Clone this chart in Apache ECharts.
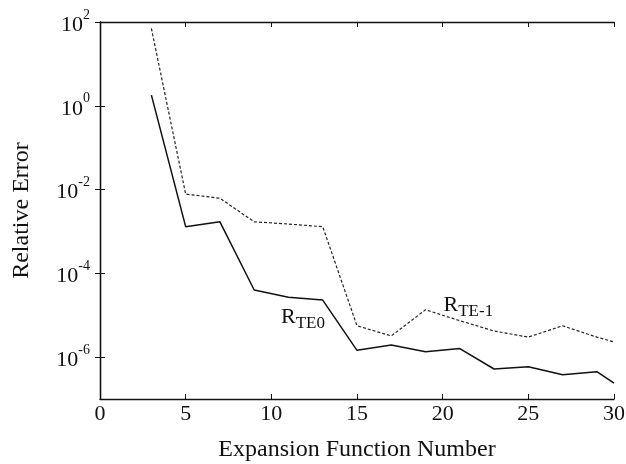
<!DOCTYPE html>
<html>
<head>
<meta charset="utf-8">
<script src="https://cdn.jsdelivr.net/npm/echarts@6/dist/echarts.min.js"></script>
<style>
  html, body { margin: 0; padding: 0; background: #fff; }
  #chart { width: 626px; height: 464px; }
</style>
</head>
<body>
<div id="chart"></div>
<script>
// expansion function number
const xValues = [3, 5, 7, 9, 11, 13, 15, 17, 19, 21, 23, 25, 27, 29, 30];
// relative error, R_TE0 (solid)
const errTE0 = [1.8, 1.3e-3, 1.7e-3, 4.0e-5, 2.7e-5, 2.3e-5, 1.45e-6, 1.95e-6, 1.35e-6, 1.6e-6, 5.2e-7, 5.9e-7, 3.8e-7, 4.5e-7, 2.4e-7];
// relative error, R_TE-1 (dashed)
const errTE1 = [70, 7.8e-3, 6.2e-3, 1.7e-3, 1.5e-3, 1.3e-3, 5.6e-6, 3.2e-6, 1.35e-5, 7.4e-6, 4.2e-6, 3.0e-6, 5.6e-6, 3.0e-6, 2.3e-6];
const yTicks = [1e2, 1, 1e-2, 1e-4, 1e-6];

const font = 'Liberation Serif';
const chart = echarts.init(document.getElementById('chart'));

const pair = (ys) => xValues.map((x, i) => [x, ys[i]]);
const supLabel = (v) => {
  const e = Math.round(Math.log10(v));
  return '{b|10}{s|' + e + '}';
};

const option = {
  backgroundColor: '#fff',
  animation: false,
  grid: { left: 100, right: 12, top: 22, bottom: 65, outerBoundsMode: 'none' },
  xAxis: [{
    type: 'value',
    min: 0, max: 30, interval: 5,
    name: 'Expansion Function Number',
    nameLocation: 'middle',
    nameGap: 39,
    nameTextStyle: { fontFamily: font, fontSize: 24, color: '#111' },
    axisLine: { lineStyle: { color: '#111', width: 1.3 } },
    axisTick: { inside: true, length: 5, lineStyle: { color: '#111' } },
    axisLabel: { fontFamily: font, fontSize: 22, color: '#111', margin: 4 },
    splitLine: { show: false }
  }, {
    type: 'value',
    position: 'top',
    min: 0, max: 30, interval: 5,
    axisLine: { show: true, lineStyle: { color: '#111', width: 1.3 } },
    axisTick: { inside: true, length: 5, lineStyle: { color: '#111' } },
    axisLabel: { show: false },
    splitLine: { show: false }
  }],
  yAxis: [{
    type: 'log',
    logBase: 10,
    min: 1e-7, max: 1e2,
    name: 'Relative Error',
    nameLocation: 'middle',
    nameGap: 66,
    nameTextStyle: { fontFamily: font, fontSize: 24, color: '#111' },
    axisLine: { show: true, lineStyle: { color: '#111', width: 1.3 } },
    axisTick: { inside: true, length: 5, lineStyle: { color: '#111' }, customValues: yTicks },
    axisLabel: {
      customValues: yTicks,
      formatter: supLabel,
      margin: 10,
      rich: {
        b: { fontFamily: font, fontSize: 22, color: '#111', verticalAlign: 'bottom' },
        s: { fontFamily: font, fontSize: 14, color: '#111', verticalAlign: 'top', padding: [0, 0, 14, 0] }
      }
    },
    splitLine: { show: false }
  }, {
    type: 'log',
    logBase: 10,
    position: 'right',
    min: 1e-7, max: 1e2,
    axisLine: { show: true, lineStyle: { color: '#111', width: 1.3 } },
    axisTick: { inside: true, length: 5, lineStyle: { color: '#111' }, customValues: yTicks },
    axisLabel: { show: false },
    splitLine: { show: false }
  }],
  series: [{
    name: 'R_TE0',
    type: 'line',
    data: pair(errTE0),
    symbol: 'none',
    lineStyle: { color: '#111', width: 1.5, type: 'solid' },
    markPoint: {
      symbol: 'circle', symbolSize: 0,
      data: [{ coord: [11.85, 9e-6] }],
      label: {
        show: true, position: 'inside',
        formatter: '{r|R}{s|TE0}',
        rich: {
          r: { fontFamily: font, fontSize: 22, color: '#111' },
          s: { fontFamily: font, fontSize: 17, color: '#111', padding: [12, 0, 0, 0] }
        }
      }
    }
  }, {
    name: 'R_TE-1',
    type: 'line',
    data: pair(errTE1),
    symbol: 'none',
    lineStyle: { color: '#222', width: 1.2, type: [3, 2] },
    markPoint: {
      symbol: 'circle', symbolSize: 0,
      data: [{ coord: [21.5, 1.7e-5] }],
      label: {
        show: true, position: 'inside',
        formatter: '{r|R}{s|TE-1}',
        rich: {
          r: { fontFamily: font, fontSize: 22, color: '#111' },
          s: { fontFamily: font, fontSize: 17, color: '#111', padding: [12, 0, 0, 0] }
        }
      }
    }
  }]
};
chart.setOption(option);
</script>
</body>
</html>
